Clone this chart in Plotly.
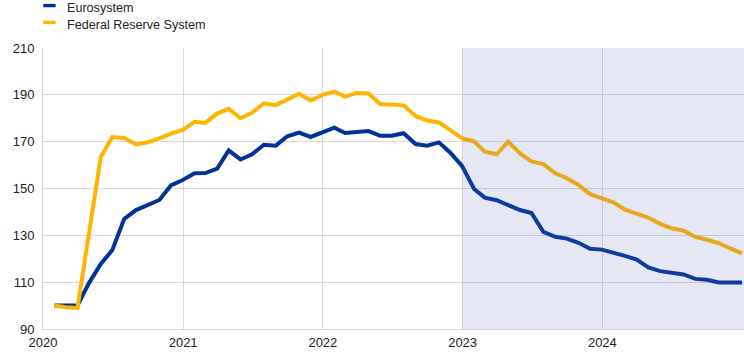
import plotly.graph_objects as go
import pandas as pd

# Month-end observation dates (Jan 2020 - Dec 2024)
dates = pd.date_range("2020-01-31", periods=60, freq="ME")

eurosystem = [
    100.0, 100.0, 100.0, 109.6, 117.8, 123.7, 137.0, 140.8, 142.8, 145.1, 151.3, 153.6,
    156.5, 156.6, 158.5, 166.3, 162.4, 164.6, 168.7, 168.3, 172.3, 173.9, 172.0, 173.8,
    176.0, 173.7, 174.1, 174.5, 172.5, 172.5, 173.6, 169.0, 168.3, 169.7, 165.3, 159.5,
    149.8, 146.1, 145.0, 142.9, 140.8, 139.5, 131.5, 129.4, 128.6, 126.8, 124.3, 123.9,
    122.7, 121.2, 119.6, 116.3, 114.7, 114.0, 113.3, 111.4, 111.0, 109.9, 109.9, 109.9,
]

federal_reserve = [
    100.0, 99.3, 99.0, 132.0, 163.5, 172.0, 171.6, 168.8, 169.7, 171.4, 173.4, 175.0,
    178.5, 178.0, 182.0, 184.0, 180.0, 182.3, 186.4, 185.6, 188.0, 190.5, 187.6, 190.0,
    191.4, 189.2, 190.8, 190.6, 186.1, 185.6, 185.5, 181.0, 179.0, 178.2, 174.6, 171.4,
    170.2, 165.7, 164.6, 170.0, 165.0, 161.6, 160.4, 156.5, 154.4, 151.5, 147.6, 145.8,
    144.0, 141.0, 139.5, 137.6, 134.9, 133.0, 132.0, 129.3, 128.1, 126.7, 124.4, 122.3,
]

series_names = ["Eurosystem", "Federal Reserve System"]
series_colors = ["#003299", "#FFB400"]
y_ticks = [90, 110, 130, 150, 170, 190, 210]
x_ticks = ["2020-01-01", "2021-01-01", "2022-01-01", "2023-01-01", "2024-01-01"]
x_tick_labels = ["2020", "2021", "2022", "2023", "2024"]
shade_start = "2023-01-01"
x_end = "2025-01-05"

FONT = "Liberation Sans, Arial, sans-serif"

fig = go.Figure()
for name, vals, col in zip(series_names, [eurosystem, federal_reserve], series_colors):
    fig.add_trace(go.Scatter(
        x=dates, y=vals, name=name, mode="lines",
        line=dict(color=col, width=4),
        showlegend=False, hoverinfo="x+y+name",
    ))

# Shaded projection period (drawn over lines, semi-transparent)
fig.add_shape(type="rect", xref="x", yref="paper",
              x0=shade_start, x1=x_end, y0=0, y1=1,
              fillcolor="rgb(95,115,185)", opacity=0.16, line_width=0, layer="above")

# Custom legend
leg_y = [1.151, 1.091]
txt_y = [1.141, 1.081]
for name, col, ly, ty in zip(series_names, series_colors, leg_y, txt_y):
    fig.add_shape(type="rect", xref="paper", yref="paper",
                  x0=0.0004, x1=0.018, y0=ly - 0.006, y1=ly + 0.006,
                  fillcolor=col, line_width=0)
    fig.add_annotation(xref="paper", yref="paper", x=0.032, y=ty,
                       text=name, showarrow=False, xanchor="left", yanchor="middle",
                       font=dict(family=FONT, size=12.6, color="#222222"))

fig.update_layout(
    width=744, height=356,
    margin=dict(l=43, r=0, t=48, b=27, autoexpand=False),
    paper_bgcolor="white", plot_bgcolor="white",
    font=dict(family=FONT, size=13, color="#222222"),
)
fig.update_xaxes(
    type="date", range=["2020-01-01", x_end],
    tickvals=x_ticks, ticktext=x_tick_labels,
    showgrid=True, gridcolor="#d9d9d9", gridwidth=1,
    showline=True, linecolor="#d9d9d9", linewidth=1,
    ticks="", zeroline=False, fixedrange=True, automargin=False,
    ticklabelstandoff=1,
)
fig.update_yaxes(
    range=[90, 210], tickvals=y_ticks,
    showgrid=True, gridcolor="#d9d9d9", gridwidth=1,
    showline=True, linecolor="#d9d9d9", linewidth=1,
    ticks="", zeroline=False, fixedrange=True, automargin=False,
    ticklabelstandoff=5,
)

fig.write_html(
    "out.html",
    config={"displayModeBar": False},
    post_script="document.body.style.margin='0';document.body.style.overflow='hidden';",
)
